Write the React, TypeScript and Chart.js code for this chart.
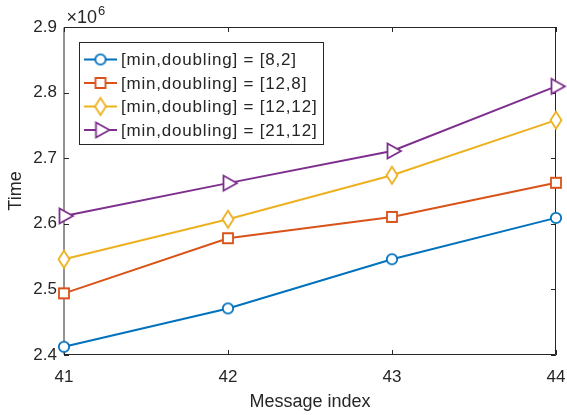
import React, { useEffect, useRef } from "react";
import { Chart, registerables } from "chart.js";

Chart.register(...registerables);

// ---- data ----
const messageIndex = [41, 42, 43, 44];
const seriesLabels = [
  "[min,doubling] = [8,2]",
  "[min,doubling] = [12,8]",
  "[min,doubling] = [12,12]",
  "[min,doubling] = [21,12]",
];
const time_8_2 = [2.4125e6, 2.471e6, 2.546e6, 2.609e6];
const time_12_8 = [2.494e6, 2.578e6, 2.6105e6, 2.6625e6];
const time_12_12 = [2.546e6, 2.607e6, 2.674e6, 2.758e6];
const time_21_12 = [2.612e6, 2.662e6, 2.711e6, 2.8095e6];
const xTickValues = [41, 42, 43, 44];
const yTickValues = [2.4, 2.5, 2.6, 2.7, 2.8, 2.9]; // ×10^6
const yScaleFactor = 1e6;
const xTitle = "Message index";
const yTitle = "Time";

const seriesColors = ["#0072BD", "#D95319", "#EDB120", "#7E2F8E"];
const markerKinds = ["circle", "square", "diamond", "triangleRight"];
const AXIS_COLOR = "#262626";
const FONT = "'Liberation Sans', Arial, Helvetica, sans-serif";

function makeMarker(kind: string, color: string): HTMLCanvasElement {
  const c = document.createElement("canvas");
  c.width = 24;
  c.height = 24;
  const g = c.getContext("2d")!;
  const cx = 12, cy = 12;
  g.lineWidth = 1.8;
  g.strokeStyle = color;
  g.fillStyle = "#ffffff";
  g.beginPath();
  if (kind === "circle") {
    g.arc(cx, cy, 5.2, 0, Math.PI * 2);
  } else if (kind === "square") {
    g.rect(cx - 5, cy - 5, 10, 10);
  } else if (kind === "diamond") {
    g.moveTo(cx, cy - 8.5);
    g.lineTo(cx + 5.5, cy);
    g.lineTo(cx, cy + 8.5);
    g.lineTo(cx - 5.5, cy);
    g.closePath();
  } else {
    g.moveTo(cx + 9, cy);
    g.lineTo(cx - 4.5, cy - 7.5);
    g.lineTo(cx - 4.5, cy + 7.5);
    g.closePath();
  }
  g.fill();
  g.stroke();
  return c;
}

const framePlugin = {
  id: "matlabFrame",
  beforeDatasetsDraw(chart: any) {
    const { ctx, chartArea } = chart;
    const { left, right, top, bottom } = chartArea;
    const xs = chart.scales.x;
    const ys = chart.scales.y;
    ctx.save();
    ctx.strokeStyle = AXIS_COLOR;
    ctx.lineWidth = 1;
    ctx.beginPath();
    ctx.moveTo(left, top + 0.5);
    ctx.lineTo(right - 0.5, top + 0.5);
    ctx.lineTo(right - 0.5, bottom - 0.5);
    ctx.lineTo(left, bottom - 0.5);
    ctx.closePath();
    ctx.stroke();
    const tl = 5;
    ctx.beginPath();
    xTickValues.forEach((v) => {
      const px = Math.round(xs.getPixelForValue(v)) + 0.5;
      ctx.moveTo(px, bottom);
      ctx.lineTo(px, bottom - tl);
      ctx.moveTo(px, top);
      ctx.lineTo(px, top + tl);
    });
    yTickValues.forEach((v) => {
      const py = Math.round(ys.getPixelForValue(v * yScaleFactor)) + 0.5;
      ctx.moveTo(left, py);
      ctx.lineTo(left + tl, py);
      ctx.moveTo(right, py);
      ctx.lineTo(right - tl, py);
    });
    ctx.stroke();
    // exponent label
    ctx.fillStyle = AXIS_COLOR;
    ctx.textBaseline = "alphabetic";
    ctx.textAlign = "left";
    ctx.font = `18px ${FONT}`;
    const base = "\u00d710";
    ctx.fillText(base, left + 2.5, top - 4.5);
    const w = ctx.measureText(base).width;
    ctx.font = `13px ${FONT}`;
    ctx.fillText("6", left + 3.5 + w, top - 12.5);
    ctx.restore();
  },
};

const legendPlugin = {
  id: "matlabLegend",
  afterDraw(chart: any) {
    const { ctx, chartArea } = chart;
    const bx = chartArea.left + 15.5;
    const by = chartArea.top + 15.5;
    const bw = 244;
    const bh = 102;
    ctx.save();
    ctx.fillStyle = "#ffffff";
    ctx.fillRect(bx, by, bw, bh);
    ctx.strokeStyle = AXIS_COLOR;
    ctx.lineWidth = 1;
    ctx.strokeRect(bx, by, bw, bh);
    const rowStart = by + 17;
    const rowStep = 23.5;
    chart.data.datasets.forEach((ds: any, i: number) => {
      const y = rowStart + i * rowStep;
      ctx.strokeStyle = ds.borderColor;
      ctx.lineWidth = 2;
      ctx.beginPath();
      ctx.moveTo(bx + 4.5, y);
      ctx.lineTo(bx + 37.5, y);
      ctx.stroke();
      const m = ds.pointStyle as HTMLCanvasElement;
      ctx.drawImage(m, bx + 21 - m.width / 2, y - m.height / 2);
      ctx.fillStyle = AXIS_COLOR;
      ctx.font = `17px ${FONT}`;
      (ctx as any).letterSpacing = "0.8px";
      ctx.textBaseline = "middle";
      ctx.textAlign = "left";
      ctx.fillText(ds.label, bx + 41.5, y + 1);
      (ctx as any).letterSpacing = "0px";
    });
    ctx.restore();
  },
};

export default function App() {
  const canvasRef = useRef<HTMLCanvasElement | null>(null);

  useEffect(() => {
    const canvas = canvasRef.current;
    if (!canvas) return;
    const seriesValues = [time_8_2, time_12_8, time_12_12, time_21_12];
    const datasets = seriesValues.map((vals, i) => ({
      label: seriesLabels[i],
      data: messageIndex.map((x, j) => ({ x, y: vals[j] })),
      borderColor: seriesColors[i],
      backgroundColor: "#ffffff",
      borderWidth: 2,
      pointStyle: makeMarker(markerKinds[i], seriesColors[i]) as any,
      pointRadius: 6,
      pointHoverRadius: 6,
      tension: 0,
      clip: false as any,
    }));

    const chart = new Chart(canvas, {
      type: "line",
      data: { datasets },
      options: {
        responsive: false,
        maintainAspectRatio: false,
        animation: false,
        events: [],
        layout: { padding: { top: 27, right: 11, left: 0, bottom: 0 } },
        plugins: {
          legend: { display: false },
          tooltip: { enabled: false },
        },
        scales: {
          x: {
            type: "linear",
            min: 41,
            max: 44,
            afterFit: (s: any) => {
              s.height = 60;
              s.paddingLeft = 0;
              s.paddingRight = 0;
            },
            afterBuildTicks: (s: any) => {
              s.ticks = xTickValues.map((v) => ({ value: v }));
            },
            grid: { display: false, drawTicks: false },
            border: { display: false },
            ticks: {
              color: AXIS_COLOR,
              font: { family: FONT, size: 17 },
              padding: 12,
              maxRotation: 0,
              autoSkip: false,
              callback: (v: any) => String(v),
            },
            title: {
              display: true,
              text: xTitle,
              color: AXIS_COLOR,
              font: { family: FONT, size: 18, lineHeight: 1.2 },
              padding: { top: 0, bottom: 2 },
            },
          },
          y: {
            type: "linear",
            min: yTickValues[0] * yScaleFactor,
            max: yTickValues[yTickValues.length - 1] * yScaleFactor,
            afterFit: (s: any) => {
              s.width = 64;
              s.paddingTop = 0;
              s.paddingBottom = 0;
            },
            afterBuildTicks: (s: any) => {
              s.ticks = yTickValues.map((v) => ({ value: v * yScaleFactor }));
            },
            grid: { display: false, drawTicks: false },
            border: { display: false },
            ticks: {
              color: AXIS_COLOR,
              font: { family: FONT, size: 17 },
              padding: 7,
              autoSkip: false,
              callback: (v: any) => (Number(v) / yScaleFactor).toFixed(1),
            },
            title: {
              display: true,
              text: yTitle,
              color: AXIS_COLOR,
              font: { family: FONT, size: 18, lineHeight: 1.2 },
              padding: { top: 5, bottom: 0 },
            },
          },
        },
      },
      plugins: [framePlugin, legendPlugin],
    });
    return () => chart.destroy();
  }, []);

  return (
    <div style={{ position: "fixed", left: 0, top: 0, width: 567, height: 415, background: "#ffffff" }}>
      <canvas ref={canvasRef} width={567} height={415} style={{ width: 567, height: 415, display: "block" }} />
    </div>
  );
}
